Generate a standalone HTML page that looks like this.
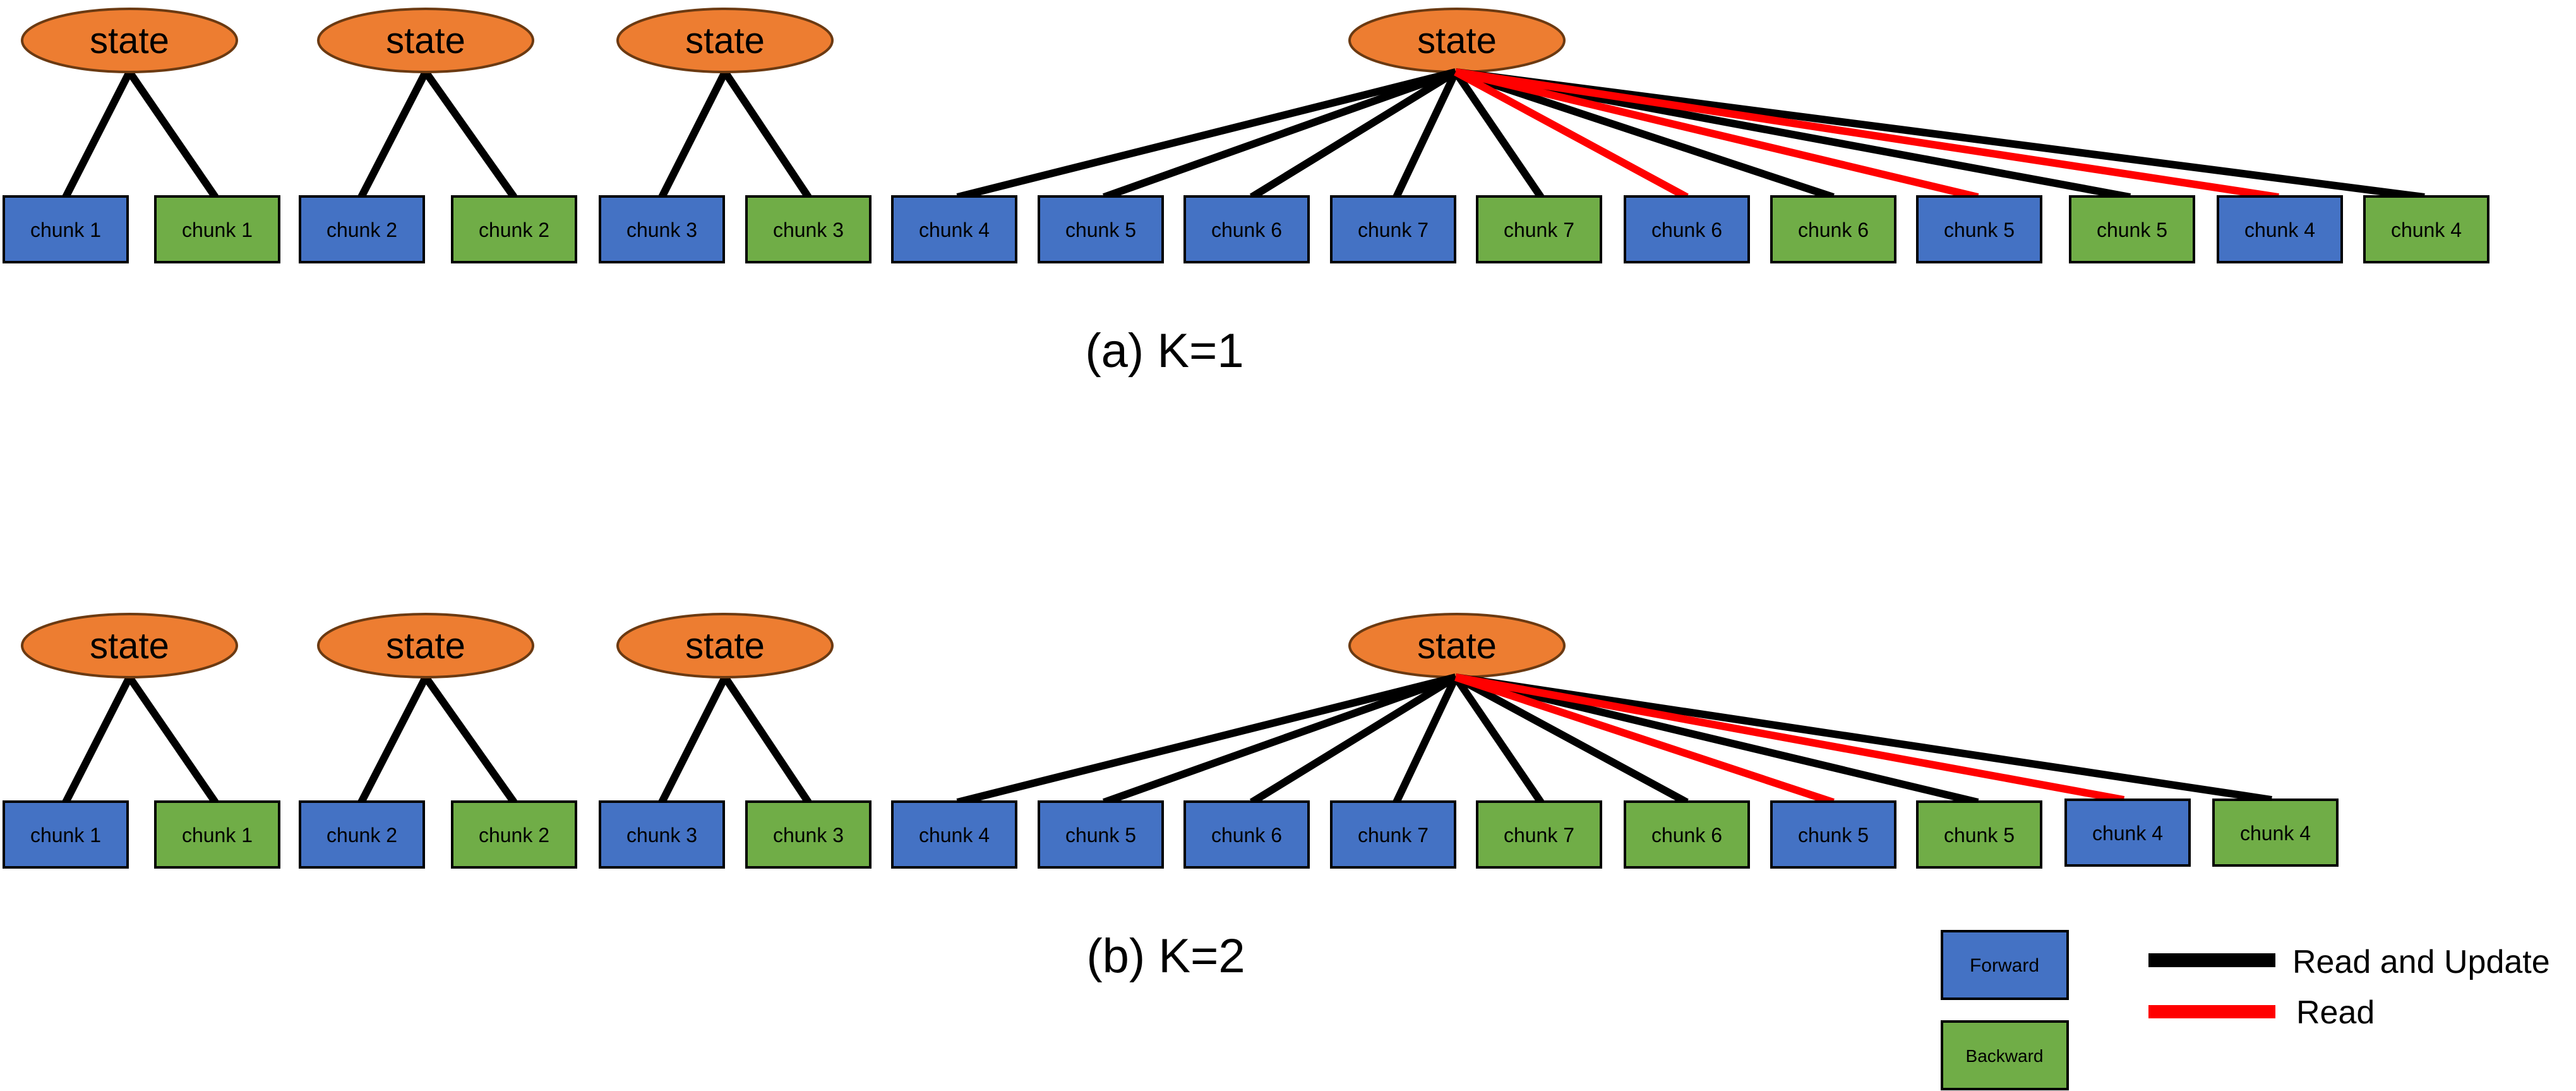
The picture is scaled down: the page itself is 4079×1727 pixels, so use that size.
<!DOCTYPE html>
<html><head><meta charset="utf-8"><style>
html,body{margin:0;padding:0;background:#fff;}
svg{display:block;}
</style></head><body>
<svg width="4079" height="1727" viewBox="0 0 4079 1727" xmlns="http://www.w3.org/2000/svg" font-family="Liberation Sans, sans-serif">
<defs>
<g id="rowA">
  <g stroke="#000" stroke-width="12">
    <line x1="205" y1="114" x2="104" y2="312"/><line x1="205" y1="114" x2="341" y2="312"/>
    <line x1="674" y1="114" x2="572" y2="312"/><line x1="674" y1="114" x2="814" y2="312"/>
    <line x1="1148" y1="114" x2="1048" y2="312"/><line x1="1148" y1="114" x2="1280" y2="312"/>
  </g>
  <g fill="#ED7D31" stroke="#6B3A12" stroke-width="4">
    <ellipse cx="205" cy="64" rx="170" ry="50"/>
    <ellipse cx="674" cy="64" rx="170" ry="50"/>
    <ellipse cx="1148" cy="64" rx="170" ry="50"/>
    <ellipse cx="2307" cy="64" rx="170" ry="50"/>
  </g>
  <g font-size="58" text-anchor="middle" fill="#000">
    <text x="205" y="84">state</text><text x="674" y="84">state</text>
    <text x="1148" y="84">state</text><text x="2307" y="84">state</text>
  </g>
</g>
</defs>

<!-- Row A -->
<use href="#rowA"/>
<g stroke-width="12">
  <line x1="2305" y1="114" x2="1516" y2="312" stroke="#000"/>
  <line x1="2305" y1="114" x2="1748" y2="312" stroke="#000"/>
  <line x1="2305" y1="114" x2="1982" y2="312" stroke="#000"/>
  <line x1="2305" y1="114" x2="2211" y2="312" stroke="#000"/>
  <line x1="2305" y1="114" x2="2440" y2="312" stroke="#000"/>
  <line x1="2305" y1="114" x2="2903" y2="312" stroke="#000"/>
  <line x1="2305" y1="114" x2="3373" y2="312" stroke="#000"/>
  <line x1="2305" y1="114" x2="3839" y2="312" stroke="#000"/>
  <line x1="2305" y1="114" x2="2671" y2="312" stroke="#f00"/>
  <line x1="2305" y1="114" x2="3132" y2="312" stroke="#f00"/>
  <line x1="2305" y1="114" x2="3608" y2="312" stroke="#f00"/>
</g>
<g stroke="#000" stroke-width="4">
  <rect x="6" y="311" width="196" height="104" fill="#4472C4"/>
  <rect x="246" y="311" width="196" height="104" fill="#70AD47"/>
  <rect x="475" y="311" width="196" height="104" fill="#4472C4"/>
  <rect x="716" y="311" width="196" height="104" fill="#70AD47"/>
  <rect x="950" y="311" width="196" height="104" fill="#4472C4"/>
  <rect x="1182" y="311" width="196" height="104" fill="#70AD47"/>
  <rect x="1413" y="311" width="196" height="104" fill="#4472C4"/>
  <rect x="1645" y="311" width="196" height="104" fill="#4472C4"/>
  <rect x="1876" y="311" width="196" height="104" fill="#4472C4"/>
  <rect x="2108" y="311" width="196" height="104" fill="#4472C4"/>
  <rect x="2339" y="311" width="196" height="104" fill="#70AD47"/>
  <rect x="2573" y="311" width="196" height="104" fill="#4472C4"/>
  <rect x="2805" y="311" width="196" height="104" fill="#70AD47"/>
  <rect x="3036" y="311" width="196" height="104" fill="#4472C4"/>
  <rect x="3278" y="311" width="196" height="104" fill="#70AD47"/>
  <rect x="3512" y="311" width="196" height="104" fill="#4472C4"/>
  <rect x="3744" y="311" width="196" height="104" fill="#70AD47"/>
</g>
<g font-size="32" text-anchor="middle" fill="#000">
  <text x="104" y="375">chunk 1</text><text x="344" y="375">chunk 1</text>
  <text x="573" y="375">chunk 2</text><text x="814" y="375">chunk 2</text>
  <text x="1048" y="375">chunk 3</text><text x="1280" y="375">chunk 3</text>
  <text x="1511" y="375">chunk 4</text><text x="1743" y="375">chunk 5</text>
  <text x="1974" y="375">chunk 6</text><text x="2206" y="375">chunk 7</text>
  <text x="2437" y="375">chunk 7</text><text x="2671" y="375">chunk 6</text>
  <text x="2903" y="375">chunk 6</text><text x="3134" y="375">chunk 5</text>
  <text x="3376" y="375">chunk 5</text><text x="3610" y="375">chunk 4</text>
  <text x="3842" y="375">chunk 4</text>
</g>
<text x="1844" y="581" font-size="76" text-anchor="middle">(a) K=1</text>

<!-- Row B -->
<use href="#rowA" y="958"/>
<g stroke-width="12" transform="translate(0,958)">
  <line x1="2305" y1="114" x2="1516" y2="312" stroke="#000"/>
  <line x1="2305" y1="114" x2="1748" y2="312" stroke="#000"/>
  <line x1="2305" y1="114" x2="1982" y2="312" stroke="#000"/>
  <line x1="2305" y1="114" x2="2211" y2="312" stroke="#000"/>
  <line x1="2305" y1="114" x2="2440" y2="312" stroke="#000"/>
  <line x1="2305" y1="114" x2="2671" y2="312" stroke="#000"/>
  <line x1="2305" y1="114" x2="3132" y2="312" stroke="#000"/>
  <line x1="2305" y1="114" x2="3597" y2="308" stroke="#000"/>
  <line x1="2305" y1="114" x2="2903" y2="312" stroke="#f00"/>
  <line x1="2305" y1="114" x2="3363" y2="308" stroke="#f00"/>
</g>
<g stroke="#000" stroke-width="4">
  <rect x="6" y="1269" width="196" height="104" fill="#4472C4"/>
  <rect x="246" y="1269" width="196" height="104" fill="#70AD47"/>
  <rect x="475" y="1269" width="196" height="104" fill="#4472C4"/>
  <rect x="716" y="1269" width="196" height="104" fill="#70AD47"/>
  <rect x="950" y="1269" width="196" height="104" fill="#4472C4"/>
  <rect x="1182" y="1269" width="196" height="104" fill="#70AD47"/>
  <rect x="1413" y="1269" width="196" height="104" fill="#4472C4"/>
  <rect x="1645" y="1269" width="196" height="104" fill="#4472C4"/>
  <rect x="1876" y="1269" width="196" height="104" fill="#4472C4"/>
  <rect x="2108" y="1269" width="196" height="104" fill="#4472C4"/>
  <rect x="2339" y="1269" width="196" height="104" fill="#70AD47"/>
  <rect x="2573" y="1269" width="196" height="104" fill="#70AD47"/>
  <rect x="2805" y="1269" width="196" height="104" fill="#4472C4"/>
  <rect x="3036" y="1269" width="196" height="104" fill="#70AD47"/>
  <rect x="3271" y="1266" width="196" height="104" fill="#4472C4"/>
  <rect x="3505" y="1266" width="196" height="104" fill="#70AD47"/>
</g>
<g font-size="32" text-anchor="middle" fill="#000">
  <text x="104" y="1333">chunk 1</text><text x="344" y="1333">chunk 1</text>
  <text x="573" y="1333">chunk 2</text><text x="814" y="1333">chunk 2</text>
  <text x="1048" y="1333">chunk 3</text><text x="1280" y="1333">chunk 3</text>
  <text x="1511" y="1333">chunk 4</text><text x="1743" y="1333">chunk 5</text>
  <text x="1974" y="1333">chunk 6</text><text x="2206" y="1333">chunk 7</text>
  <text x="2437" y="1333">chunk 7</text><text x="2671" y="1333">chunk 6</text>
  <text x="2903" y="1333">chunk 5</text><text x="3134" y="1333">chunk 5</text>
  <text x="3369" y="1330">chunk 4</text><text x="3603" y="1330">chunk 4</text>
</g>
<text x="1846" y="1539" font-size="76" text-anchor="middle">(b) K=2</text>

<!-- Legend -->
<rect x="3075" y="1474" width="199" height="107" fill="#4472C4" stroke="#000" stroke-width="4"/>
<text x="3174" y="1538" font-size="30" text-anchor="middle">Forward</text>
<rect x="3075" y="1617" width="199" height="107" fill="#70AD47" stroke="#000" stroke-width="4"/>
<text x="3174" y="1681" font-size="28" text-anchor="middle">Backward</text>
<rect x="3402" y="1509" width="201" height="22" fill="#000"/>
<rect x="3402" y="1591" width="201" height="21" fill="#f00"/>
<text x="3630" y="1540" font-size="52">Read and Update</text>
<text x="3636" y="1620" font-size="52">Read</text>
</svg>
</body></html>
